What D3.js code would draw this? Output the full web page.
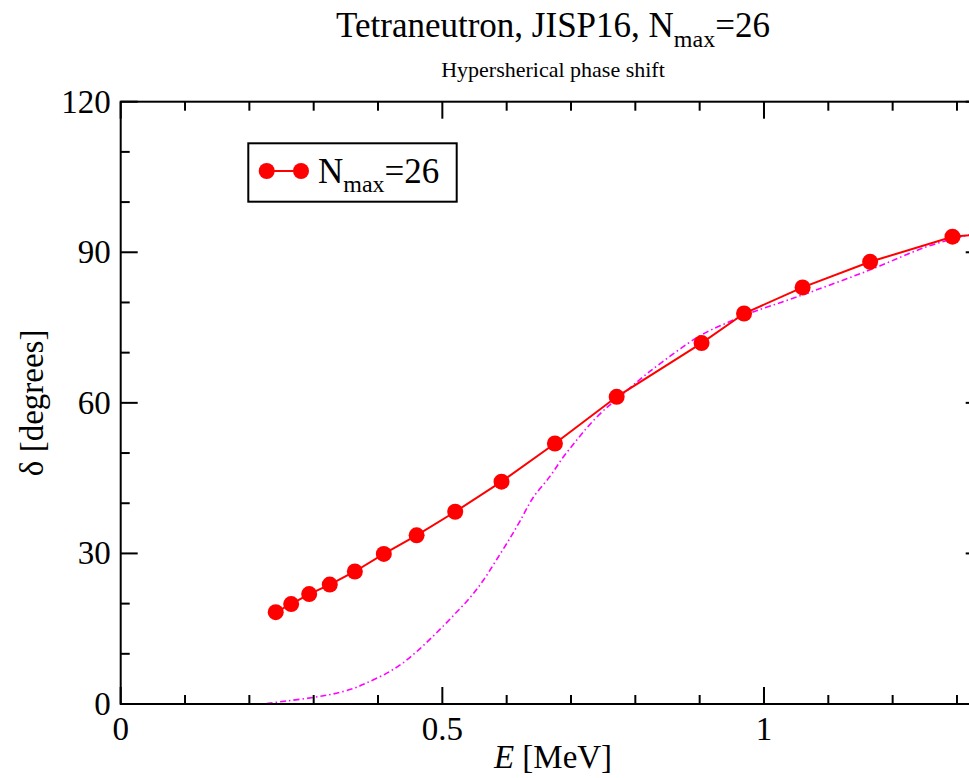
<!DOCTYPE html>
<html>
<head>
<meta charset="utf-8">
<script src="https://cdn.jsdelivr.net/npm/d3@7"></script>
<style>
  html, body { margin: 0; padding: 0; background: #fff; overflow: hidden; }
  svg text { font-family: "Liberation Serif", "DejaVu Serif", serif; fill: #000; }
</style>
</head>
<body>
<svg id="chart" width="969" height="778"></svg>
<script>
// N_max = 26 phase shift points
const energy = [0.241, 0.265, 0.293, 0.325, 0.364, 0.409, 0.460, 0.520, 0.592, 0.675,
                0.771, 0.903, 0.969, 1.060, 1.165, 1.293, 1.43];
const phaseShift = [18.3, 19.9, 21.9, 23.8, 26.4, 29.9, 33.6, 38.3, 44.3, 51.9,
                    61.2, 71.9, 77.8, 83.0, 88.1, 93.1, 94.6];

// dash-dot reference curve
const refEnergy = [0.227, 0.258, 0.299, 0.330, 0.362, 0.382, 0.413, 0.439, 0.465, 0.491,
                   0.517, 0.543, 0.564, 0.584, 0.605, 0.621, 0.641, 0.667, 0.688, 0.709,
                   0.730, 0.755, 0.771, 0.823, 0.901, 0.947, 0.970, 1.060, 1.165, 1.253, 1.310, 1.34];
const refPhase = [0.1, 0.6, 1.3, 2.0, 3.1, 4.2, 6.1, 8.2, 11.0, 14.2,
                  17.6, 21.2, 24.7, 28.7, 33.0, 36.5, 41.1, 45.3, 49.2, 52.6,
                  55.8, 59.0, 60.7, 66.3, 73.4, 76.2, 77.5, 81.5, 86.5, 91.1, 93.2, 94.0];

const xMajor = [0, 0.5, 1];
const xMinor = [0.1, 0.2, 0.3, 0.4, 0.6, 0.7, 0.8, 0.9, 1.1, 1.2, 1.3];
const yMajor = [0, 30, 60, 90, 120];
const yMinor = [10, 20, 40, 50, 70, 80, 100, 110];
const xTickLabels = ['0', '0.5', '1'];

const svg = d3.select('#chart');
const pLeft = 120.7, pTop = 101.7, pRight = 982.7, pBottom = 704;

const x = d3.scaleLinear().domain([0, 1.34]).range([pLeft, pRight]);
const y = d3.scaleLinear().domain([0, 120]).range([pBottom, pTop]);

svg.append('defs').append('clipPath').attr('id', 'plotclip')
  .append('rect').attr('x', pLeft).attr('y', pTop)
  .attr('width', pRight - pLeft).attr('height', pBottom - pTop);

// title
const title = svg.append('text')
  .attr('x', 553).attr('y', 37)
  .attr('text-anchor', 'middle').style('font-size', '35px');
title.append('tspan').text('Tetraneutron, JISP16, N');
title.append('tspan').attr('dy', 10).style('font-size', '24px').text('max');
title.append('tspan').attr('dy', -10).text('=26');

svg.append('text')
  .attr('x', 553).attr('y', 77)
  .attr('text-anchor', 'middle').style('font-size', '22px')
  .text('Hypersherical phase shift');

const plot = svg.append('g').attr('clip-path', 'url(#plotclip)');

// reference curve
const refData = refEnergy.map((e, i) => [e, refPhase[i]]);
plot.append('path')
  .datum(refData)
  .attr('d', d3.line().x(d => x(d[0])).y(d => y(d[1])).curve(d3.curveCatmullRom.alpha(0.5)))
  .attr('fill', 'none')
  .attr('stroke', '#ff00ff')
  .attr('stroke-width', 1.6)
  .attr('stroke-dasharray', '6,3,1.5,3');

// N_max=26 series
const data = energy.map((e, i) => [e, phaseShift[i]]);
plot.append('path')
  .datum(data)
  .attr('d', d3.line().x(d => x(d[0])).y(d => y(d[1])))
  .attr('fill', 'none')
  .attr('stroke', '#ff0000')
  .attr('stroke-width', 2);

plot.selectAll('circle.pt')
  .data(data)
  .enter().append('circle')
  .attr('class', 'pt')
  .attr('cx', d => x(d[0]))
  .attr('cy', d => y(d[1]))
  .attr('r', 8)
  .attr('fill', '#ff0000');

// frame + ticks
const axisG = svg.append('g').attr('stroke', '#000').attr('stroke-width', 2);
axisG.append('rect')
  .attr('x', pLeft).attr('y', pTop)
  .attr('width', pRight - pLeft).attr('height', pBottom - pTop)
  .attr('fill', 'none');

const majorLen = 17, minorLen = 9;
function xTicks(vals, len) {
  vals.forEach(v => {
    axisG.append('line').attr('x1', x(v)).attr('x2', x(v)).attr('y1', pBottom).attr('y2', pBottom - len);
    axisG.append('line').attr('x1', x(v)).attr('x2', x(v)).attr('y1', pTop).attr('y2', pTop + len);
  });
}
function yTicks(vals, len) {
  vals.forEach(v => {
    axisG.append('line').attr('x1', pLeft).attr('x2', pLeft + len).attr('y1', y(v)).attr('y2', y(v));
    axisG.append('line').attr('x1', pRight).attr('x2', pRight - len).attr('y1', y(v)).attr('y2', y(v));
  });
}
xTicks(xMajor, majorLen);
xTicks(xMinor, minorLen);
yTicks(yMajor, majorLen);
yTicks(yMinor, minorLen);

// tick labels
svg.selectAll('text.xt')
  .data(xMajor)
  .enter().append('text')
  .attr('class', 'xt')
  .attr('x', d => x(d)).attr('y', 740)
  .attr('text-anchor', 'middle')
  .style('font-size', '33px')
  .text((d, i) => xTickLabels[i]);

svg.selectAll('text.yt')
  .data(yMajor)
  .enter().append('text')
  .attr('class', 'yt')
  .attr('x', pLeft - 10).attr('y', d => y(d) + 11)
  .attr('text-anchor', 'end')
  .style('font-size', '33px')
  .text(d => d);

// axis labels
const xl = svg.append('text')
  .attr('x', 553).attr('y', 768)
  .attr('text-anchor', 'middle').style('font-size', '33px');
xl.append('tspan').style('font-style', 'italic').text('E');
xl.append('tspan').text(' [MeV]');

svg.append('text')
  .attr('transform', `translate(43, ${(pTop + pBottom) / 2}) rotate(-90)`)
  .attr('text-anchor', 'middle').style('font-size', '33px')
  .text('δ [degrees]');

// legend
const lg = svg.append('g');
lg.append('rect')
  .attr('x', 248.3).attr('y', 143.3).attr('width', 208.4).attr('height', 58.4)
  .attr('fill', '#fff').attr('stroke', '#000').attr('stroke-width', 2);
lg.append('line')
  .attr('x1', 266.7).attr('x2', 301).attr('y1', 171).attr('y2', 171)
  .attr('stroke', '#ff0000').attr('stroke-width', 2);
lg.selectAll('circle')
  .data([266.7, 301])
  .enter().append('circle')
  .attr('cx', d => d).attr('cy', 171).attr('r', 8).attr('fill', '#ff0000');
const lt = lg.append('text').attr('x', 318).attr('y', 183).style('font-size', '35px');
lt.append('tspan').text('N');
lt.append('tspan').attr('dy', 9).style('font-size', '24px').text('max');
lt.append('tspan').attr('dy', -9).text('=26');
</script>
</body>
</html>
